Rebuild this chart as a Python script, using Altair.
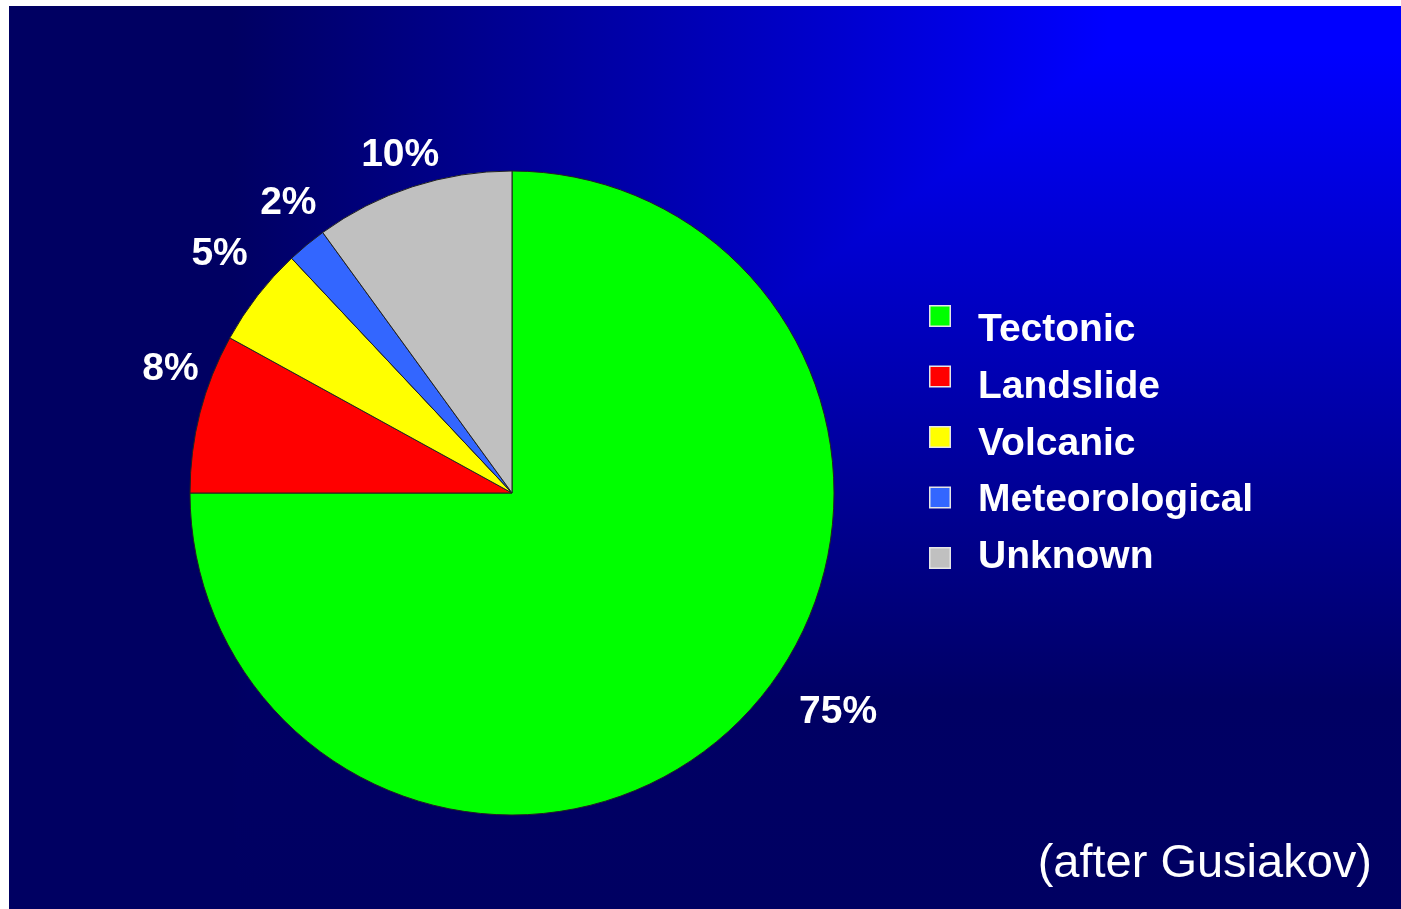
import altair as alt
import pandas as pd

# Tsunami sources, share of events (%)
categories = ["Tectonic", "Landslide", "Volcanic", "Meteorological", "Unknown"]
shares = [75, 8, 5, 2, 10]
colors = ["#00FF00", "#FF0000", "#FFFF00", "#3366FF", "#C0C0C0"]
source_note = "(after Gusiakov)"

df = pd.DataFrame({
    "category": categories,
    "share": shares,
    "order": list(range(len(categories))),
})

W, H = 1401, 909
CX, CY, R = 512, 493, 322
LABEL_R = 365
FONT = "Liberation Sans"

# pixel offsets that move each percentage label off its slice bisector
label_nudge = {
    "Tectonic": (68, -40),
    "Landslide": (12, -34),
    "Volcanic": (-4, -16),
    "Meteorological": (9, -10),
    "Unknown": (1, 8),
}

color_scale = alt.Scale(domain=categories, range=colors)
theta_scale = alt.Scale(domain=[0, 100])
single = alt.InlineData(values=[{}])


def stops(pairs):
    return [alt.GradientStop(offset=o, color=c) for o, c in pairs]


# slide background: bright blue in the top-right corner fading to navy
bg_horizontal = alt.Chart(single).mark_rect(
    color=alt.LinearGradient(
        gradient="linear", x1=0, x2=1, y1=0, y2=0,
        stops=stops([(0, "#000062"), (0.16, "#000062"), (0.79, "#0000FF"), (1, "#0000FF")]),
    )
).encode(x=alt.value(9), x2=alt.value(W), y=alt.value(6), y2=alt.value(H))

bg_vertical = alt.Chart(single).mark_rect(
    blend="darken",
    color=alt.LinearGradient(
        gradient="linear", x1=0, x2=0, y1=0, y2=1,
        stops=stops([(0, "#0000FF"), (0.05, "#0000FF"), (0.77, "#000064"), (1, "#000062")]),
    ),
).encode(x=alt.value(9), x2=alt.value(W), y=alt.value(6), y2=alt.value(H))

base = alt.Chart(df)

pie = base.mark_arc(radius=R, stroke="#222222", strokeWidth=1).encode(
    theta=alt.Theta("share:Q", stack=True, scale=theta_scale),
    order=alt.Order("order:Q"),
    color=alt.Color("category:N", scale=color_scale, legend=None),
    x=alt.value(CX),
    y=alt.value(CY),
)

mids = base.transform_window(
    cum="sum(share)", sort=[alt.SortField("order")]
).transform_calculate(
    mid="datum.cum - datum.share / 2",
    label="datum.share + '%'",
)

label_layers = [
    mids.transform_filter(alt.datum.category == cat).mark_text(
        radius=LABEL_R, font=FONT, fontSize=39, fontWeight="bold", color="white",
        align="center", baseline="middle", dx=dx, dy=dy,
    ).encode(
        theta=alt.Theta("mid:Q", stack=False, scale=theta_scale),
        text="label:N",
        x=alt.value(CX),
        y=alt.value(CY),
    )
    for cat, (dx, dy) in label_nudge.items()
]

legend_squares = base.mark_square(
    size=420, filled=True, stroke="#E6E6E6", strokeWidth=1.5, opacity=1
).encode(
    y=alt.Y("category:N", sort=categories, axis=None,
            scale=alt.Scale(type="point", range=[316, 558], padding=0)),
    x=alt.value(940),
    fill=alt.Fill("category:N", scale=color_scale, legend=None),
)

legend_text = base.mark_text(
    align="left", baseline="alphabetic", font=FONT, fontSize=39,
    fontWeight="bold", color="white",
).encode(
    y=alt.Y("category:N", sort=categories, axis=None,
            scale=alt.Scale(type="point", range=[341, 568], padding=0)),
    x=alt.value(978),
    text="category:N",
)

note = alt.Chart(alt.InlineData(values=[{"note": source_note}])).mark_text(
    align="right", baseline="alphabetic", font=FONT, fontSize=47, color="white",
).encode(x=alt.value(1372), y=alt.value(877), text="note:N")

chart = alt.layer(
    bg_horizontal, bg_vertical, pie, *label_layers, legend_squares, legend_text, note
).resolve_scale(
    y="independent"
).properties(
    width=W, height=H, padding=0,
    autosize=alt.AutoSizeParams(type="none"),
    background="white",
).configure_view(strokeWidth=0)

chart.save("out.html", embed_options={"renderer": "svg", "actions": False})
